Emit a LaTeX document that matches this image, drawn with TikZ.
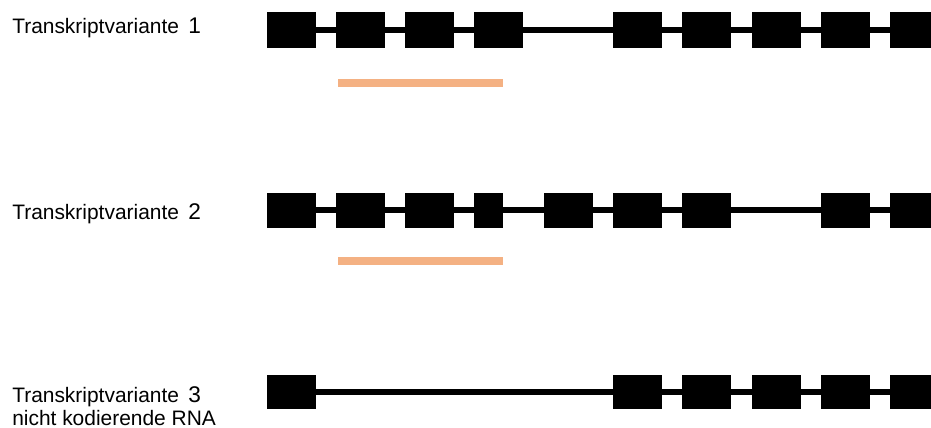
\documentclass[tikz,border=0pt]{standalone}
\usepackage{fontspec}
\setmainfont{Liberation Sans}
\usepackage{xcolor}
\usetikzlibrary{positioning}
\definecolor{orfcolor}{RGB}{244,177,131}
\newcommand{\varnum}[1]{\hspace{2.6pt}{\fontsize{17pt}{20pt}\selectfont #1}}

\begin{document}
\begin{tikzpicture}[x=0.75pt,y=-0.75pt,
  exon/.style={fill=black,inner sep=0pt,minimum width=36.75pt,minimum height=26.25pt},
  intron/.style={line width=3.9pt},
  orf/.style={fill=orfcolor},
  lbl/.style={anchor=base west,inner sep=0pt,font=\fontsize{15.7pt}{19pt}\selectfont}]
  \clip (0,0) rectangle (931,428);
  % labels
  \node[lbl] (t1) at (12,34) {Transkriptvariante \varnum{1}};
  \node[lbl] (t2) at (12,219) {Transkriptvariante \varnum{2}};
  \node[lbl] (t3) at (12,402) {Transkriptvariante \varnum{3}};
  \node[lbl] (t3b) at (12,425.5) {nicht kodierende RNA};
  % variant 1
  \foreach \x [count=\i] in {291,360.5,429.5,498.5,637.5,706.5,776,845.5,914.5}
    \node[exon,minimum height=27pt] (a\i) at (\x,30) {};
  \coordinate (a0) at (931,30);
  \draw[intron] (a1) -- (a0);
  \fill[orf] (338,79) rectangle (503,87);
  % variant 2
  \foreach \x/\w [count=\i] in {291/49,360.5/49,429.5/49,488.5/29,568/49,637.5/49,706.5/49,845.5/49,914.5/49}
    \node[exon,minimum width=\w*0.75pt] (b\i) at (\x,210) {};
  \coordinate (b0) at (931,210);
  \draw[intron] (b1) -- (b0);
  \fill[orf] (338,257) rectangle (503,265);
  % variant 3
  \foreach \x [count=\i] in {291,637.5,706.5,776,845.5,914.5}
    \node[exon,minimum height=25.5pt] (c\i) at (\x,392) {};
  \coordinate (c0) at (931,392);
  \draw[intron] (c1) -- (c0);
\end{tikzpicture}
\end{document}
